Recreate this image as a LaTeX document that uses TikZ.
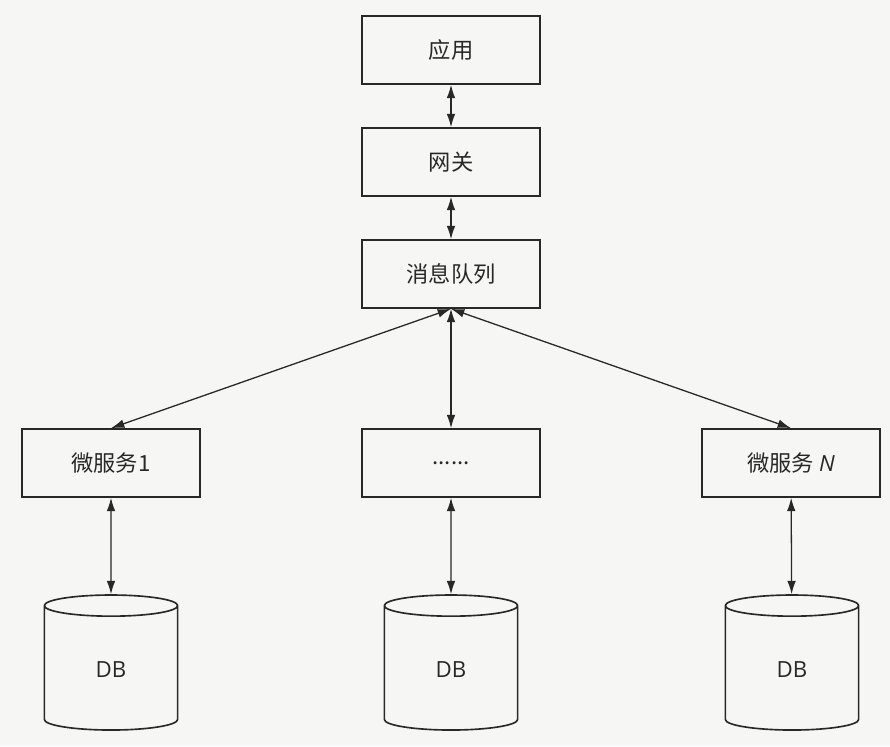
\documentclass[tikz,border=0pt]{standalone}
\usepackage{fontspec}
\setmainfont{Open Sans}
\newfontfamily\cjk{Noto Sans CJK SC}
\usetikzlibrary{positioning}
\usetikzlibrary{shapes.geometric}
\usetikzlibrary{arrows.meta}
\definecolor{inkgray}{RGB}{40,40,40}
\definecolor{papergray}{RGB}{246,246,244}

\begin{document}
\begin{tikzpicture}[x=0.03cm,y=-0.03cm]

		\tikzset{box/.style = {shape=rectangle,draw=inkgray,line width=1.4pt,minimum width=5.34cm,minimum height=2.04cm,font=\fontsize{19}{22}\selectfont\cjk,text=inkgray}}
		\tikzset{db/.style = {shape=cylinder,shape border rotate=90,draw=inkgray,line width=1.4pt,aspect=0.55,minimum width=4cm,minimum height=4.05cm,font=\fontsize{19}{22}\selectfont,text=inkgray}}
		\tikzset{edge/.style = {{Latex[length=4mm,width=2.6mm]}-{Latex[length=4mm,width=2.6mm]},draw=inkgray,line width=1.1pt}}

		\fill[papergray] (0,0) rectangle (890,746);
		\useasboundingbox (0,0) rectangle (890,746);

		% vertices
		\node[box] (app) at (451,50) {应用};
		\node[box] (gw) at (451,162) {网关};
		\node[box] (mq) at (451,274) {消息队列};

		\node[box] (ms1) at (111,463) {微服务1};
		\node[box] (msx) at (451,463) {......};
		\node[box] (msn) at (791,463) {微服务 {\normalfont\itshape N}};

		\node[db] (db1) at (111,670) {DB};
		\node[db] (dbx) at (451,670) {DB};
		\node[db] (dbn) at (792,670) {DB};

		%edges
		\draw[edge] (app) to (gw);

		\draw[edge] (gw) to (mq);

		\draw[edge] (mq.south) to (ms1.north);

		\draw[edge] (mq) to (msx);

		\draw[edge] (mq.south) to (msn.north);

		\draw[edge] (ms1) to (db1);

		\draw[edge] (msx) to (dbx);

		\draw[edge] (msn) to (dbn);

\end{tikzpicture}
\end{document}
